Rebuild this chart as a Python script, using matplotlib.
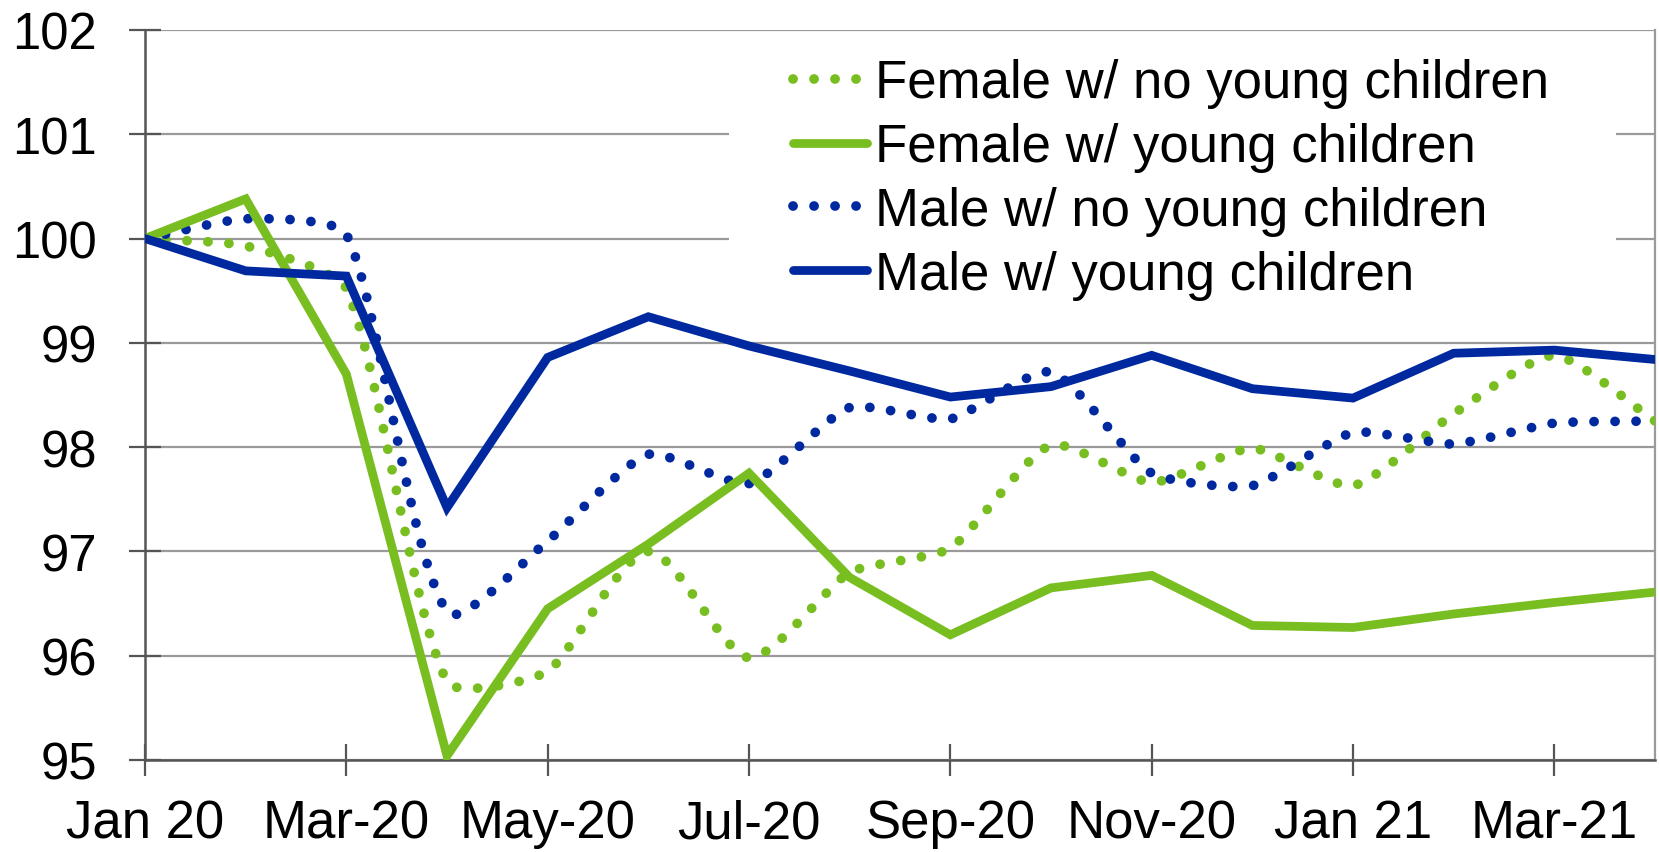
import numpy as np
import matplotlib
matplotlib.use("Agg")
import matplotlib.pyplot as plt
from matplotlib.path import Path
from matplotlib.patches import PathPatch, Rectangle
from matplotlib.lines import Line2D

plt.rcParams['font.family'] = ['Liberation Sans', 'DejaVu Sans']

# monthly index, Jan 2020 = 100
months = ['Jan 20', 'Feb-20', 'Mar-20', 'Apr-20', 'May-20', 'Jun-20', 'Jul-20', 'Aug-20',
          'Sep-20', 'Oct-20', 'Nov-20', 'Dec-20', 'Jan 21', 'Feb-21', 'Mar-21', 'Apr-21']
female_no_young = [100.0, 99.93, 99.52, 95.75, 95.85, 97.0, 95.98, 96.8,
                   97.03, 98.02, 97.66, 97.99, 97.63, 98.32, 98.88, 98.25]
female_young = [100.0, 100.38, 98.7, 95.04, 96.45, 97.07, 97.75, 96.75,
                96.2, 96.65, 96.77, 96.29, 96.27, 96.4, 96.51, 96.61]
male_no_young = [100.0, 100.19, 100.04, 96.42, 97.1, 97.93, 97.65, 98.38,
                 98.27, 98.72, 97.75, 97.63, 98.14, 98.03, 98.23, 98.25]
male_young = [100.0, 99.69, 99.64, 97.42, 98.86, 99.25, 98.97, 98.73,
              98.48, 98.58, 98.88, 98.56, 98.47, 98.9, 98.93, 98.84]

labels = ['Female w/ no young children', 'Female w/ young children',
          'Male w/ no young children', 'Male w/ young children']
green = '#78BE20'
blue = '#0029A0'


def smooth_path(ax, x, y, k=0.18):
    # smoothed line like Excel's: bezier through every point,
    # control arms worked out in screen space
    pts = ax.transData.transform(np.column_stack([x, y]).astype(float))
    n = len(pts)
    tang = []
    for i in range(n):
        a = pts[max(i - 1, 0)]
        b = pts[min(i + 1, n - 1)]
        v = b - a
        tang.append(v / np.hypot(*v))
    verts = [pts[0]]
    codes = [Path.MOVETO]
    for i in range(n - 1):
        d = np.hypot(*(pts[i + 1] - pts[i]))
        verts += [pts[i] + tang[i] * d * k, pts[i + 1] - tang[i + 1] * d * k, pts[i + 1]]
        codes += [Path.CURVE4] * 3
    verts = ax.transData.inverted().transform(np.array(verts))
    return Path(verts, codes)


fig = plt.figure(figsize=(16.59, 8.53), dpi=100)
ax = fig.add_axes([0.0874, 0.1079, 0.9102, 0.8558])
x = np.arange(len(months))

ax.set_xlim(0, 15)
ax.set_ylim(95, 102)
ax.set_yticks(np.arange(95, 103, 1))
ax.set_xticks(x[::2])
ax.set_xticklabels(months[::2])

dot_style = dict(linestyle=(0, (0.01, 2.15)), linewidth=7.0)
solid_w = 6.3

for vals, col in [(female_no_young, green), (male_no_young, blue)]:
    patch = PathPatch(smooth_path(ax, x, vals), fill=False, edgecolor=col,
                      capstyle='round', zorder=3, **dot_style)
    ax.add_patch(patch)

ax.plot(x, female_young, color=green, linewidth=solid_w, zorder=3,
        solid_joinstyle='miter')
ax.plot(x, male_young, color=blue, linewidth=solid_w, zorder=4,
        solid_joinstyle='miter')

ax.set_axisbelow(True)
ax.grid(axis='y', color='#9a9a9a', linewidth=1.6)
ax.grid(axis='x', visible=False)

for side in ['left', 'bottom']:
    ax.spines[side].set_color('#555555')
    ax.spines[side].set_linewidth(1.8)
ax.spines['right'].set_color('#9a9a9a')
ax.spines['right'].set_linewidth(1.6)
ax.spines['top'].set_visible(False)

ax.tick_params(axis='both', direction='inout', length=23, width=1.6,
               color='#555555', labelcolor='black')
ax.tick_params(axis='y', pad=23, labelsize=36.5)
ax.tick_params(axis='x', pad=16, labelsize=38)

# white box behind the legend hides the gridlines there
ax.add_patch(Rectangle((0.387, 0.615), 0.587, 0.372, transform=ax.transAxes,
                       facecolor='white', edgecolor='none', zorder=1))

handles = [
    Line2D([], [], color=green, dash_capstyle='round', **dot_style),
    Line2D([], [], color=green, linewidth=solid_w, solid_capstyle='round'),
    Line2D([], [], color=blue, dash_capstyle='round', **dot_style),
    Line2D([], [], color=blue, linewidth=solid_w, solid_capstyle='round'),
]
ax.legend(handles, labels, loc='upper left', bbox_to_anchor=(0.429, 0.961),
          frameon=False, fontsize=38, handlelength=1.4, handletextpad=0.15,
          labelspacing=0.26, borderpad=0, borderaxespad=0)

fig.savefig('out.png', dpi=100)
